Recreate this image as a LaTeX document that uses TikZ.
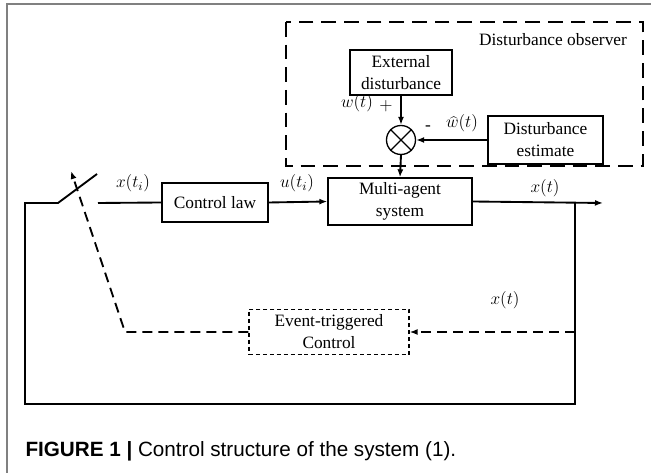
\documentclass[tikz,border=0pt]{standalone}
\usepackage{fix-cm}
\usepackage{fontspec}
\setmainfont{Liberation Serif}
\newfontfamily\capfont{Liberation Sans}
\usetikzlibrary{arrows.meta}

\tikzset{every picture/.style={line width=0.75pt}}
\tikzset{
	blk/.style={draw, line width=1pt, inner sep=0pt, align=center, font=\fontsize{13}{16.5}\selectfont},
	sig/.style={line width=1.4pt},
	lbl/.style={inner sep=0pt, anchor=base, font=\fontsize{13}{15}\selectfont},
	tip/.style={-{Latex[length=6pt,width=4.5pt]}},
	evt/.style={line width=1.4pt, dash pattern=on 7.5pt off 4.5pt},
}

\begin{document}
\begin{tikzpicture}[x=0.75pt,y=0.75pt,yscale=-1,xscale=1]
	\useasboundingbox (0,0) rectangle (651,473);

	%Frame lines
	\draw [color={rgb, 255:red, 128; green, 128; blue, 128 }, line width=1pt] (651,4) -- (7,4) -- (7,473);

	%Shape: Dashed Rectangle [observer]
	\draw [line width=1.8pt, dash pattern=on 11pt off 6pt] (286,22) rectangle (643,166);
	% Text Node
	\node [inner sep=0pt, font=\fontsize{13}{15}\selectfont] (obs) at (553,40) {Disturbance observer};

	%Shape: Rectangle [blocks]
	\node [blk, minimum width=79.5pt, minimum height=29.25pt] (law) at (215,202.5) {Control law};
	\node [blk, minimum width=108pt, minimum height=35.25pt] (mas) at (400,201.5) {Multi-agent\\system};
	\node [blk, minimum width=76.5pt, minimum height=33.75pt] (ext) at (401,72.5) {External\\disturbance};
	\node [blk, minimum width=86.25pt, minimum height=36pt] (est) at (545.5,140) {Disturbance\\estimate};
	\node [blk, minimum width=120pt, minimum height=33.75pt, line width=0.9pt, dash pattern=on 3pt off 2.2pt] (etc) at (329,332) {Event-triggered\\Control};
	%Shape: Circle [sum]
	\node [draw, circle, line width=1pt, minimum size=21.75pt, inner sep=0pt] (sum) at (401,140) {};
	\draw [line width=1pt] (sum.north east) -- (sum.south west) (sum.north west) -- (sum.south east);

	%Points of the loop
	\coordinate (inp) at (25,203);
	\coordinate (pivot) at (58,203);
	\coordinate (blade) at (97,174);
	\coordinate (contact) at (98,203);
	\coordinate (out) at (603,203);
	\coordinate (tap) at (575,203);
	\coordinate (br) at (575,404);
	\coordinate (bl) at (25,404);
	\coordinate (fb) at (575,332);
	\coordinate (bend) at (125,332);
	\coordinate (trig) at (71,171);

	%Straight Lines
	\draw [sig] (contact) -- (law.west);
	\draw [sig, tip] (law.east) -- (mas.west);
	\draw [sig, tip] (mas.east) -- (out);
	\draw [sig] (tap) -- (br) -- (bl) -- (inp) -- (pivot) -- (blade);
	\draw [sig, tip] (ext.south) -- (sum.north);
	\draw [sig, tip] (est.west) -- (sum.east);
	\draw [sig, tip] (sum.south) -- (mas.north);
	%Dashed Lines
	\draw [evt, tip] (fb) -- (etc.east);
	\draw [evt, tip] (etc.west) -- (bend) -- (trig);

	% Text Node
	\node [lbl] (xti) at (133,188) {$x(t_i)$};
	\node [lbl] (uti) at (297,188) {$u(t_i)$};
	\node [lbl] (xt1) at (545,193) {$x(t)$};
	\node [lbl] (xt2) at (505,305) {$x(t)$};
	\node [lbl] (wt) at (357,108) {$w(t)$};
	\node [lbl] (plus) at (386,111) {$+$};
	\node [lbl] (minus) at (428,131) {-};
	\node [lbl] (wh) at (462,128) {$\widehat{w}(t)$};

	% Caption
	\node [anchor=base west, inner sep=0pt, font=\capfont\fontsize{15.5}{18}\selectfont] (cap) at (25,457) {\textbf{FIGURE 1 |} Control structure of the system (1).};
\end{tikzpicture}
\end{document}
